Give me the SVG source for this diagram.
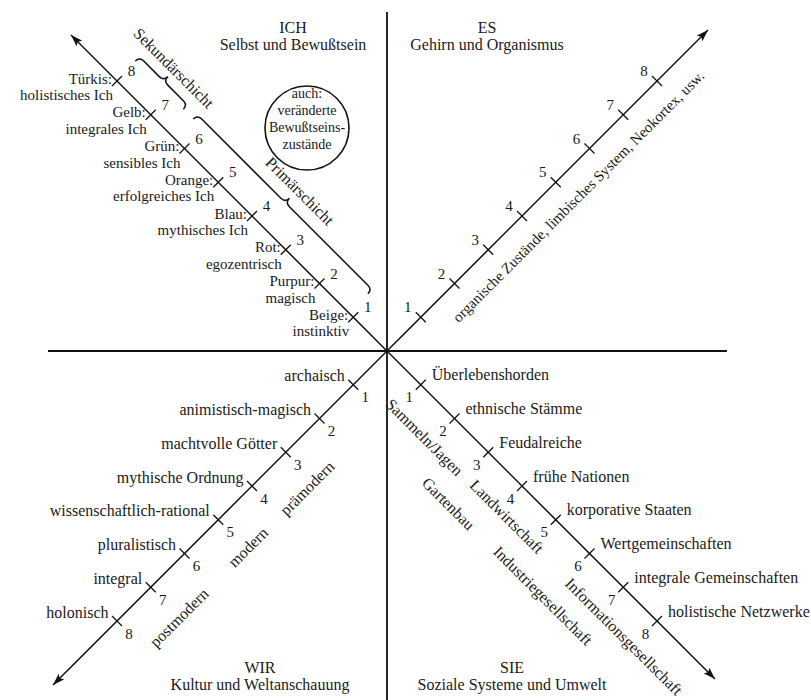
<svg xmlns="http://www.w3.org/2000/svg" width="811" height="700" viewBox="0 0 811 700" font-family="'Liberation Serif', 'DejaVu Serif', serif">
<defs>
<marker id="arr" viewBox="0 0 12 8" refX="12" refY="4" markerWidth="12" markerHeight="8" markerUnits="userSpaceOnUse" orient="auto">
<path d="M0,0 L12,4 L0,8 L2.5,4 z" fill="#111"/>
</marker>
<style>
text{font-family:'Liberation Serif','DejaVu Serif',serif;fill:#1a1a1a;font-size:16px}
.r{text-anchor:end}
.l{text-anchor:end;font-size:15px}
.m{text-anchor:middle}
.n{font-size:15px;text-anchor:middle}
.c{font-size:14px;text-anchor:middle}
.ax{stroke:#111;stroke-width:1.8;fill:none}
.dg{stroke:#111;stroke-width:1.5;fill:none}
.tk{stroke:#111;stroke-width:1.3;fill:none}
.br{stroke:#111;stroke-width:1.5;fill:none}
</style>
</defs>
<rect width="811" height="700" fill="#fff"/>

<g id="connectors">
<line class="ax" x1="387" y1="12" x2="387" y2="700"/>
<line class="ax" x1="48" y1="351" x2="727" y2="351"/>
<line class="dg" x1="387" y1="351" x2="71" y2="35" marker-end="url(#arr)"/>
<line class="dg" x1="387" y1="351" x2="708" y2="30" marker-end="url(#arr)"/>
<line class="dg" x1="387" y1="351" x2="53" y2="685" marker-end="url(#arr)"/>
<line class="dg" x1="387" y1="351" x2="715" y2="679" marker-end="url(#arr)"/>
</g>

<g id="ich">
<text class="m" x="293" y="33">ICH</text>
<text class="m" x="293" y="50">Selbst und Bewußtsein</text>
<path class="tk" d="M353.25 317.25m-5 5l10-10M319.5 283.5m-5 5l10-10M285.75 249.75m-5 5l10-10M252 216m-5 5l10-10M218.25 182.25m-5 5l10-10M184.5 148.5m-5 5l10-10M150.75 114.75m-5 5l10-10M117 81m-5 5l10-10"/>
<text class="n" x="367.75" y="312.25">1</text>
<text class="n" x="334" y="278.5">2</text>
<text class="n" x="300.25" y="244.75">3</text>
<text class="n" x="266.5" y="211">4</text>
<text class="n" x="232.75" y="177.25">5</text>
<text class="n" x="199" y="143.5">6</text>
<text class="n" x="165.25" y="109.75">7</text>
<text class="n" x="131.5" y="76">8</text>
<text class="l" x="112" y="83.5">Türkis:</text>
<text class="l" x="113" y="100">holistisches Ich</text>
<text class="l" x="145.75" y="117.25">Gelb:</text>
<text class="l" x="146.75" y="133.75">integrales Ich</text>
<text class="l" x="179.5" y="151">Grün:</text>
<text class="l" x="180.5" y="167.5">sensibles Ich</text>
<text class="l" x="213.25" y="184.75">Orange:</text>
<text class="l" x="214.25" y="201.25">erfolgreiches Ich</text>
<text class="l" x="247" y="218.5">Blau:</text>
<text class="l" x="248" y="235">mythisches Ich</text>
<text class="l" x="280.75" y="252.25">Rot:</text>
<text class="l" x="281.75" y="268.75">egozentrisch</text>
<text class="l" x="314.5" y="286">Purpur:</text>
<text class="l" x="315.5" y="302.5">magisch</text>
<text class="l" x="348.25" y="319.75">Beige:</text>
<text class="l" x="349.25" y="336.25">instinktiv</text>
<g transform="translate(387 351) rotate(45)">
<path class="br" d="M-383 -27C-383 -31 -381 -33 -377 -33L-355 -33C-351 -33 -349 -35 -349 -39C-349 -35 -347 -33 -343 -33L-321 -33C-317 -33 -315 -31 -315 -27"/>
<path class="br" d="M-301 -27C-301 -31 -299 -33 -295 -33L-183 -33C-179 -33 -177 -35 -177 -39C-177 -35 -175 -33 -171 -33L-60 -33C-56 -33 -54 -31 -54 -27"/>
</g>
<text class="m" transform="translate(170 72) rotate(45)">Sekundärschicht</text>
<text class="m" transform="translate(296 195) rotate(45)">Primärschicht</text>
<circle cx="307" cy="128" r="42" fill="none" stroke="#111" stroke-width="1.6"/>
<text class="c" x="307" y="98">auch:</text>
<text class="c" x="307" y="115">veränderte</text>
<text class="c" x="307" y="132">Bewußtseins-</text>
<text class="c" x="307" y="149">zustände</text>
</g>

<g id="es">
<text class="m" x="487" y="33">ES</text>
<text class="m" x="487" y="50">Gehirn und Organismus</text>
<path class="tk" d="M420.75 317.25m-5-5l10 10M454.5 283.5m-5-5l10 10M488.25 249.75m-5-5l10 10M522 216m-5-5l10 10M555.75 182.25m-5-5l10 10M589.5 148.5m-5-5l10 10M623.25 114.75m-5-5l10 10M657 81m-5-5l10 10"/>
<text class="n" x="407.75" y="312.25">1</text>
<text class="n" x="441.5" y="278.5">2</text>
<text class="n" x="475.25" y="244.75">3</text>
<text class="n" x="509" y="211">4</text>
<text class="n" x="542.75" y="177.25">5</text>
<text class="n" x="576.5" y="143.5">6</text>
<text class="n" x="610.25" y="109.75">7</text>
<text class="n" x="644" y="76">8</text>
<text class="m" style="font-size:15px" transform="translate(582 200) rotate(-45)">organische Zustände, limbisches System, Neokortex, usw.</text>
</g>

<g id="wir">
<text class="m" x="260" y="673">WIR</text>
<text class="m" x="260" y="690">Kultur und Weltanschauung</text>
<path class="tk" d="M353.25 384.75m-5-5l10 10M319.5 418.5m-5-5l10 10M285.75 452.25m-5-5l10 10M252 486m-5-5l10 10M218.25 519.75m-5-5l10 10M184.5 553.5m-5-5l10 10M150.75 587.25m-5-5l10 10M117 621m-5-5l10 10"/>
<text class="n" x="365.25" y="402.25">1</text>
<text class="n" x="331.5" y="436">2</text>
<text class="n" x="297.75" y="469.75">3</text>
<text class="n" x="264" y="503.5">4</text>
<text class="n" x="230.25" y="537.25">5</text>
<text class="n" x="196.5" y="571">6</text>
<text class="n" x="162.75" y="604.75">7</text>
<text class="n" x="129" y="638.5">8</text>
<text class="r" x="344.75" y="381.25">archaisch</text>
<text class="r" x="311" y="415">animistisch-magisch</text>
<text class="r" x="277.25" y="448.75">machtvolle Götter</text>
<text class="r" x="243.5" y="482.5">mythische Ordnung</text>
<text class="r" x="209.75" y="516.25">wissenschaftlich-rational</text>
<text class="r" x="176" y="550">pluralistisch</text>
<text class="r" x="142.25" y="583.75">integral</text>
<text class="r" x="108.5" y="617.5">holonisch</text>
<text class="m" transform="translate(311 492) rotate(-45)">prämodern</text>
<text class="m" transform="translate(252 551) rotate(-45)">modern</text>
<text class="m" transform="translate(183 621.5) rotate(-45)">postmodern</text>
</g>

<g id="sie">
<text class="m" x="512" y="673">SIE</text>
<text class="m" x="512" y="690">Soziale Systeme und Umwelt</text>
<path class="tk" d="M420.75 384.75m-5 5l10-10M454.5 418.5m-5 5l10-10M488.25 452.25m-5 5l10-10M522 486m-5 5l10-10M555.75 519.75m-5 5l10-10M589.5 553.5m-5 5l10-10M623.25 587.25m-5 5l10-10M657 621m-5 5l10-10"/>
<text class="n" x="409.25" y="402.25">1</text>
<text class="n" x="443" y="436">2</text>
<text class="n" x="476.75" y="469.75">3</text>
<text class="n" x="510.5" y="503.5">4</text>
<text class="n" x="544.25" y="537.25">5</text>
<text class="n" x="578" y="571">6</text>
<text class="n" x="611.75" y="604.75">7</text>
<text class="n" x="645.5" y="638.5">8</text>
<text x="431.75" y="380.25">Überlebenshorden</text>
<text x="465.5" y="414">ethnische Stämme</text>
<text x="499.25" y="447.75">Feudalreiche</text>
<text x="533" y="481.5">frühe Nationen</text>
<text x="566.75" y="515.25">korporative Staaten</text>
<text x="600.5" y="549">Wertgemeinschaften</text>
<text x="634.25" y="582.75">integrale Gemeinschaften</text>
<text x="668" y="616.5">holistische Netzwerke</text>
<text class="m" transform="translate(420.5 441) rotate(45)">Sammeln/Jagen</text>
<text class="m" transform="translate(444.5 507.5) rotate(45)">Gartenbau</text>
<text class="m" transform="translate(503 520.5) rotate(45)">Landwirtschaft</text>
<text class="m" transform="translate(539 599.5) rotate(45)">Industriegesellschaft</text>
<text class="m" transform="translate(620 640.5) rotate(45)">Informationsgesellschaft</text>
</g>
</svg>
